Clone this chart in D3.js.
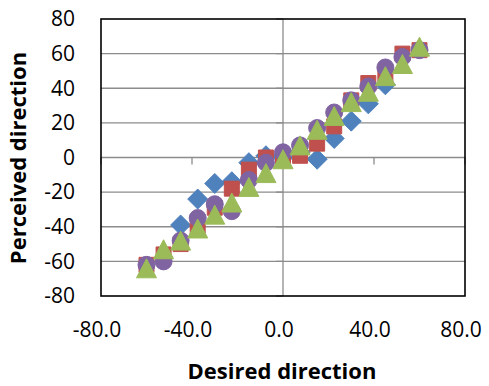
<!DOCTYPE html>
<html><head><meta charset="utf-8">
<script src="https://cdn.jsdelivr.net/npm/d3@7"></script>
<style>body{margin:0;background:#fff}svg{display:block}text{font-family:"Open Sans",sans-serif}</style>
</head><body><svg id="c" width="489" height="386"></svg>
<script>
const xTicks = [-80, -40, 0, 40, 80];
const yTicks = [-80, -60, -40, -20, 0, 20, 40, 60, 80];
const xTitle = "Desired direction";
const yTitle = "Perceived direction";

const blueX = [-45, -37.5, -30, -22.5, -15, -7.5, 0, 7.5, 15, 22.5, 30, 37.5, 45];
const blueY = [-39, -24, -15, -14, -3, 1, 0, 3, -1, 11, 21, 31, 42];
const redX = [-60, -52.5, -45, -37.5, -30, -22.5, -15, -7.5, 0, 7.5, 15, 22.5, 30, 37.5, 45, 52.5, 60];
const redY = [-62, -56, -50, -41, -29, -18, -7, 0, 0, 1, 8, 18, 33, 43, 47, 60, 62];
const purpleX = [-60, -52.5, -45, -37.5, -30, -22.5, -15, -7.5, 0, 7.5, 15, 22.5, 30, 37.5, 45, 52.5, 60];
const purpleY = [-62, -60, -48, -35, -27, -31, -13, -3, 3, 7, 17, 26, 33, 41, 52, 58, 62];
const greenX = [-60, -52.5, -45, -37.5, -30, -22.5, -15, -7.5, 0, 7.5, 15, 22.5, 30, 37.5, 45, 52.5, 60];
const greenY = [-64, -53, -48, -41, -33, -26, -17, -9, -1, 7, 16, 24, 32, 38, 47, 54, 64];

const series = [
  {x: blueX, y: blueY, color: "#4F81BD", shape: "diamond"},
  {x: redX, y: redY, color: "#C0504D", shape: "square"},
  {x: purpleX, y: purpleY, color: "#8064A2", shape: "circle"},
  {x: greenX, y: greenY, color: "#9BBB59", shape: "triangle"}
];

const svg = d3.select("#c");
const L = 101, R = 465, T = 19, B = 296;
const x = d3.scaleLinear().domain([-80, 80]).range([L, R]);
const y = d3.scaleLinear().domain([-80, 80]).range([B, T]);

// gridlines
svg.append("g").selectAll("line").data(yTicks.filter(v => v > -80 && v < 80)).join("line")
  .attr("x1", L).attr("x2", R).attr("y1", d => y(d)).attr("y2", d => y(d))
  .attr("stroke", "#8c8c8c").attr("stroke-width", 1.3);

// vertical axis at x=0
svg.append("line").attr("x1", x(0)).attr("x2", x(0)).attr("y1", T).attr("y2", B)
  .attr("stroke", "#8c8c8c").attr("stroke-width", 1.3);
svg.append("g").selectAll("line").data(yTicks).join("line")
  .attr("x1", x(0) - 7).attr("x2", x(0)).attr("y1", d => y(d)).attr("y2", d => y(d))
  .attr("stroke", "#8c8c8c").attr("stroke-width", 1.3);
// horizontal axis ticks at y=0
svg.append("g").selectAll("line").data(xTicks).join("line")
  .attr("x1", d => x(d)).attr("x2", d => x(d)).attr("y1", y(0)).attr("y2", y(0) + 7)
  .attr("stroke", "#8c8c8c").attr("stroke-width", 1.3);

// markers
function shapePath(shape, cx, cy) {
  const p = d3.path();
  if (shape === "diamond") { const r = 10; p.moveTo(cx, cy - r); p.lineTo(cx + r, cy); p.lineTo(cx, cy + r); p.lineTo(cx - r, cy); p.closePath(); }
  else if (shape === "square") { const r = 7.5; p.rect(cx - r, cy - r, 2 * r, 2 * r); }
  else if (shape === "circle") { p.arc(cx, cy, 8.5, 0, Math.PI * 2); }
  else { const w = 10, h = 9.5; p.moveTo(cx, cy - h); p.lineTo(cx + w, cy + h); p.lineTo(cx - w, cy + h); p.closePath(); }
  return p.toString();
}
series.forEach(s => {
  svg.append("g").selectAll("path").data(s.x.map((v, i) => [v, s.y[i]])).join("path")
    .attr("d", d => shapePath(s.shape, x(d[0]), y(d[1])))
    .attr("fill", s.color).attr("stroke", s.color).attr("stroke-width", 1);
});

// plot border
svg.append("rect").attr("x", L).attr("y", T).attr("width", R - L).attr("height", B - T)
  .attr("fill", "none").attr("stroke", "#000").attr("stroke-width", 1.6);

// tick labels
svg.append("g").selectAll("text").data(yTicks).join("text")
  .attr("x", 75).attr("y", d => y(d)).attr("dy", "0.35em").attr("text-anchor", "end")
  .attr("font-size", 21).attr("fill", "#000").text(d => d);
svg.append("g").selectAll("text").data(xTicks).join("text")
  .attr("x", d => x(d) - 4).attr("y", 330).attr("dy", "0.35em").attr("text-anchor", "middle")
  .attr("font-size", 21).attr("fill", "#000").text(d => d.toFixed(1));

// titles
svg.append("text").attr("x", 282).attr("y", 371).attr("dy", "0.35em").attr("text-anchor", "middle")
  .attr("font-size", 22).attr("font-weight", "bold").text(xTitle);
svg.append("text").attr("transform", "translate(18,158) rotate(-90)").attr("dy", "0.35em")
  .attr("text-anchor", "middle").attr("font-size", 22).attr("font-weight", "bold").text(yTitle);
</script></body></html>
